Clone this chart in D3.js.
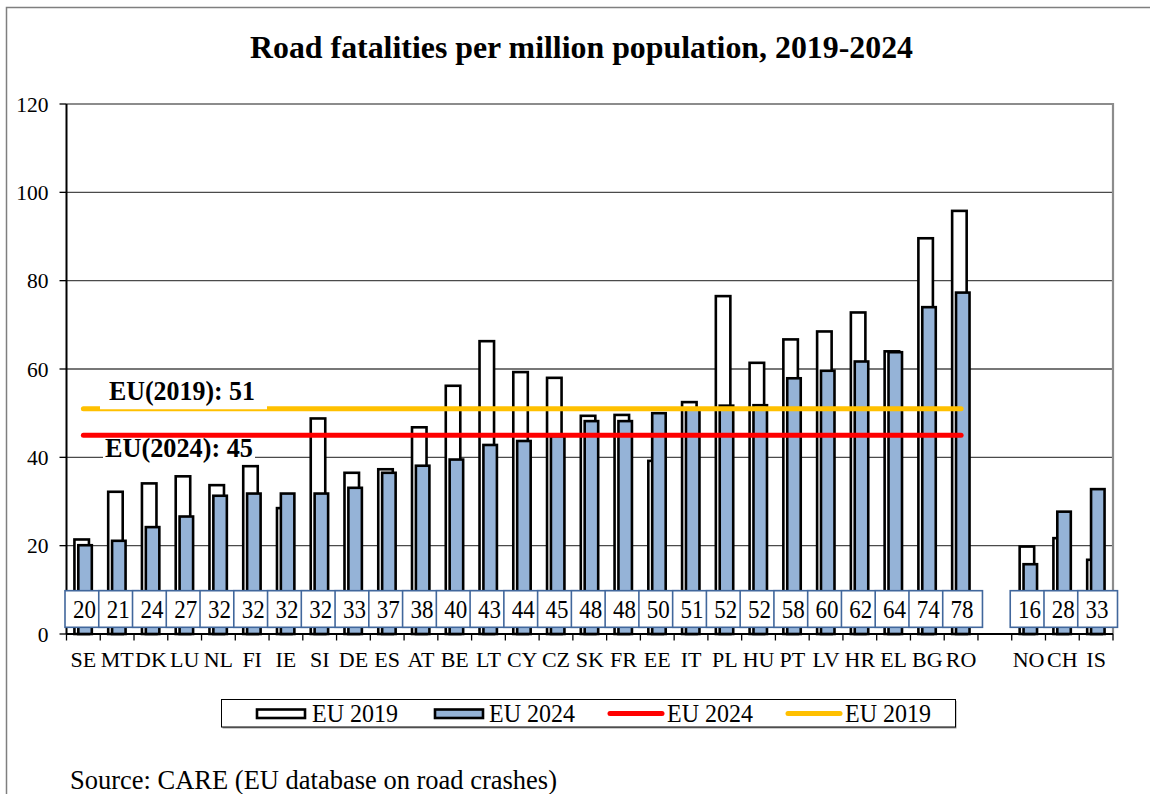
<!DOCTYPE html>
<html>
<head>
<meta charset="utf-8">
<script src="https://cdn.jsdelivr.net/npm/d3@7"></script>
<style>
  body { margin: 0; background: #fff; }
  svg text { font-family: "Liberation Serif", "Times New Roman", serif; }
</style>
</head>
<body>
<div id="chart"></div>
<script>
// countries in chart order, a gap slot, then non-EU countries
var euCountries = ["SE","MT","DK","LU","NL","FI","IE","SI","DE","ES","AT","BE","LT","CY","CZ","SK","FR","EE","IT","PL","HU","PT","LV","HR","EL","BG","RO"];
var otherCountries = ["NO","CH","IS"];
var countries = euCountries.concat(otherCountries);

var rate2019 = [21.4,32.2,34.1,35.7,33.7,38.0,28.5,48.8,36.5,37.3,46.8,56.2,66.3,59.3,58.0,49.4,49.6,39.2,52.5,76.5,61.4,66.7,68.5,72.8,64.0,89.6,95.8, 19.8,21.7,16.8];
var rate2024 = [20.1,21.1,24.2,26.6,31.3,31.8,31.8,31.8,33.1,36.5,38.1,39.5,42.8,43.7,44.8,48.2,48.2,50.0,51.0,51.7,51.8,57.9,59.6,61.7,63.8,74.0,77.3, 15.8,27.7,32.8];
var labels2024 = [20,21,24,27,32,32,32,32,33,37,38,40,43,44,45,48,48,50,51,52,52,58,60,62,64,74,78, 16,28,33];

var euAvg2019 = 51;
var euAvg2024 = 45;
var yTicks = [0,20,40,60,80,100,120];

var W = 1150, H = 794;
var plotL = 66.5, plotR = 1113, plotT = 104, plotB = 634;

var svg = d3.select("#chart").append("svg")
    .attr("width", W)
    .attr("height", H);

// outer frame (right/bottom edges are outside the picture)
svg.append("rect")
    .attr("x", 6.5).attr("y", 7.5)
    .attr("width", 1160).attr("height", 800)
    .attr("fill", "none")
    .attr("stroke", "#7f7f7f")
    .attr("stroke-width", 1.5);

svg.append("text")
    .attr("x", 250).attr("y", 58)
    .attr("font-size", 32)
    .attr("font-weight", "bold")
    .attr("textLength", 663)
    .attr("lengthAdjust", "spacingAndGlyphs")
    .text("Road fatalities per million population, 2019-2024");

var slots = euCountries.concat(["gap"], otherCountries);
var x = d3.scaleBand().domain(slots).range([plotL, plotR]).padding(0);
var bw = x.bandwidth();
var y = d3.scaleLinear().domain([0, 120]).range([plotB, plotT]);

// gridlines
svg.selectAll("line.grid")
  .data(yTicks.filter(function(d) { return d > 0 && d < 120; }))
  .enter().append("line")
    .attr("class", "grid")
    .attr("x1", plotL).attr("x2", plotR)
    .attr("y1", function(d) { return y(d); })
    .attr("y2", function(d) { return y(d); })
    .attr("stroke", "#4a4a4a")
    .attr("stroke-width", 1.3);

// plot border top + right (gray)
svg.append("path")
    .attr("d", "M" + plotL + "," + plotT + "H" + plotR + "V" + plotB)
    .attr("fill", "none")
    .attr("stroke", "#8c8c8c")
    .attr("stroke-width", 2.2);

var data = countries.map(function(c, i) {
  return { c: c, v19: rate2019[i], v24: rate2024[i], lab: labels2024[i] };
});

// 2019 bars (white)
svg.selectAll("rect.b19")
  .data(data)
  .enter().append("rect")
    .attr("class", "b19")
    .attr("x", function(d) { return x(d.c) + 0.235 * bw; })
    .attr("width", 0.43 * bw)
    .attr("y", function(d) { return y(d.v19); })
    .attr("height", function(d) { return y(0) - y(d.v19); })
    .attr("fill", "#fff")
    .attr("stroke", "#000")
    .attr("stroke-width", 2.6);

// 2024 bars (blue)
svg.selectAll("rect.b24")
  .data(data)
  .enter().append("rect")
    .attr("class", "b24")
    .attr("x", function(d) { return x(d.c) + 0.35 * bw; })
    .attr("width", 0.40 * bw)
    .attr("y", function(d) { return y(d.v24); })
    .attr("height", function(d) { return y(0) - y(d.v24); })
    .attr("fill", "#95b3d7")
    .attr("stroke", "#000")
    .attr("stroke-width", 2.6);

// EU average lines
var xFirst = x(euCountries[0]) + bw / 2;
var xLast = x(euCountries[euCountries.length - 1]) + bw / 2;
svg.append("line")
    .attr("x1", xFirst).attr("x2", xLast)
    .attr("y1", y(euAvg2019)).attr("y2", y(euAvg2019))
    .attr("stroke", "#ffc000").attr("stroke-width", 5)
    .attr("stroke-linecap", "round");
svg.append("line")
    .attr("x1", xFirst).attr("x2", xLast)
    .attr("y1", y(euAvg2024)).attr("y2", y(euAvg2024))
    .attr("stroke", "#ff0000").attr("stroke-width", 5)
    .attr("stroke-linecap", "round");

// annotation boxes
svg.append("rect")
    .attr("x", 100).attr("y", 378).attr("width", 167).attr("height", y(euAvg2019) + 0.5 - 378)
    .attr("fill", "#fff");
svg.append("text")
    .attr("x", 109).attr("y", 400)
    .attr("font-size", 27).attr("font-weight", "bold")
    .attr("textLength", 146).attr("lengthAdjust", "spacingAndGlyphs")
    .text("EU(2019): " + euAvg2019);
svg.append("rect")
    .attr("x", 103).attr("y", y(euAvg2024) + 3).attr("width", 152).attr("height", 26)
    .attr("fill", "#fff");
svg.append("text")
    .attr("x", 105).attr("y", 457)
    .attr("font-size", 27).attr("font-weight", "bold")
    .attr("textLength", 148).attr("lengthAdjust", "spacingAndGlyphs")
    .text("EU(2024): " + euAvg2024);

// axes
svg.append("line")
    .attr("x1", plotL).attr("x2", plotL).attr("y1", plotT).attr("y2", plotB)
    .attr("stroke", "#000").attr("stroke-width", 2);
svg.append("line")
    .attr("x1", plotL).attr("x2", plotR).attr("y1", plotB).attr("y2", plotB)
    .attr("stroke", "#000").attr("stroke-width", 2);

svg.selectAll("line.ytick")
  .data(yTicks)
  .enter().append("line")
    .attr("x1", 59.5).attr("x2", plotL)
    .attr("y1", function(d) { return y(d); })
    .attr("y2", function(d) { return y(d); })
    .attr("stroke", "#000").attr("stroke-width", 1.3);

svg.selectAll("text.ylab")
  .data(yTicks)
  .enter().append("text")
    .attr("x", 48.5)
    .attr("y", function(d) { return y(d) + 7.5; })
    .attr("text-anchor", "end")
    .attr("font-size", 21.5)
    .text(function(d) { return d; });

var bounds = slots.map(function(s) { return x(s); }).concat([plotR]);
svg.selectAll("line.xtick")
  .data(bounds)
  .enter().append("line")
    .attr("x1", function(d) { return d; })
    .attr("x2", function(d) { return d; })
    .attr("y1", plotB).attr("y2", plotB + 6.5)
    .attr("stroke", "#000").attr("stroke-width", 1.3);

svg.selectAll("text.xlab")
  .data(countries)
  .enter().append("text")
    .attr("x", function(d) { return x(d) + bw / 2; })
    .attr("y", 667)
    .attr("text-anchor", "middle")
    .attr("font-size", 22)
    .text(function(d) { return d; });

// data label boxes for 2024
var lab = svg.selectAll("g.lab")
  .data(data)
  .enter().append("g")
    .attr("class", "lab");
lab.append("rect")
    .attr("x", function(d) { return x(d.c) - 1.5; })
    .attr("y", 590.7)
    .attr("width", bw + 6)
    .attr("height", 36.6)
    .attr("fill", "#fff")
    .attr("stroke", "#41679c")
    .attr("stroke-width", 1.6);
lab.append("text")
    .attr("x", function(d) { return x(d.c) + bw / 2 + 1; })
    .attr("y", 618.3)
    .attr("text-anchor", "middle")
    .attr("font-size", 26)
    .attr("textLength", 23)
    .attr("lengthAdjust", "spacingAndGlyphs")
    .text(function(d) { return d.lab; });

// legend
var lg = svg.append("g");
lg.append("rect")
    .attr("x", 222.5).attr("y", 701).attr("width", 734).attr("height", 27.5)
    .attr("fill", "#9a9a9a");
lg.append("rect")
    .attr("x", 221.5).attr("y", 699.5).attr("width", 734).attr("height", 27.5)
    .attr("fill", "#fff").attr("stroke", "#000").attr("stroke-width", 1);

var legendItems = [
  { kind: "bar", fill: "#fff", x: 257, tx: 312, label: "EU 2019" },
  { kind: "bar", fill: "#95b3d7", x: 435, tx: 489, label: "EU 2024" },
  { kind: "line", stroke: "#ff0000", x: 610, tx: 667, label: "EU 2024" },
  { kind: "line", stroke: "#ffc000", x: 788, tx: 845, label: "EU 2019" }
];
legendItems.forEach(function(it) {
  if (it.kind === "bar") {
    lg.append("rect")
        .attr("x", it.x).attr("y", 709.5).attr("width", 48).attr("height", 8.5)
        .attr("fill", it.fill).attr("stroke", "#000").attr("stroke-width", 2.6);
  } else {
    lg.append("line")
        .attr("x1", it.x).attr("x2", it.x + 52)
        .attr("y1", 713.5).attr("y2", 713.5)
        .attr("stroke", it.stroke).attr("stroke-width", 5)
        .attr("stroke-linecap", "round");
  }
  lg.append("text")
      .attr("x", it.tx).attr("y", 721.5)
      .attr("font-size", 25)
      .attr("textLength", 86)
      .attr("lengthAdjust", "spacingAndGlyphs")
      .text(it.label);
});

svg.append("text")
    .attr("x", 70).attr("y", 789)
    .attr("font-size", 27)
    .attr("textLength", 487)
    .attr("lengthAdjust", "spacingAndGlyphs")
    .text("Source: CARE (EU database on road crashes)");
</script>
</body>
</html>
